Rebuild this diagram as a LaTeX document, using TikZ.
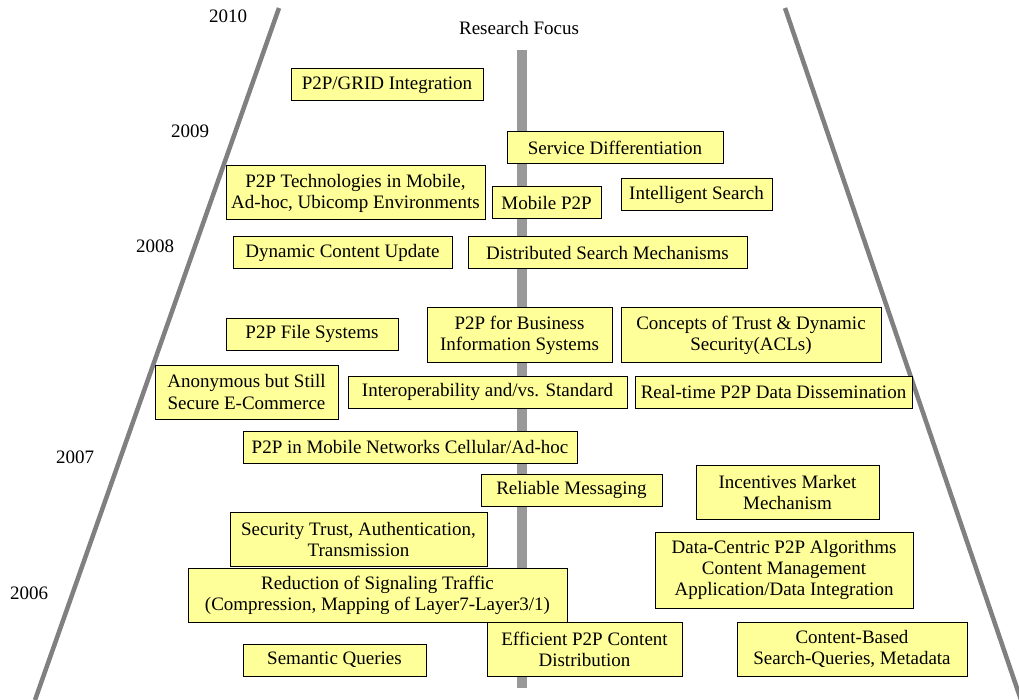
\documentclass[tikz,border=0pt]{standalone}
\usepackage{fontspec}
\setmainfont{Liberation Serif}
\definecolor{boxfill}{HTML}{FFFF99}
\definecolor{sideline}{HTML}{808080}
\definecolor{barcol}{HTML}{999999}
\tikzset{
  box/.style={draw=black,line width=1pt,fill=boxfill,inner sep=0pt,align=center,
    font=\fontsize{19}{21}\selectfont},
  year/.style={font=\fontsize{19}{21}\selectfont,inner sep=0pt},
}
\newcommand\bx[6]{\node[box,minimum width={(#4-#2)*1pt},minimum height={(#5-#3)*1pt}] (#1) at ({(#2+#4)/2},{(#3+#5)/2}) {#6};}
\begin{document}
\begin{tikzpicture}[x=1pt,y=-1pt]
\useasboundingbox (0,0) rectangle (1019,700);
\begin{scope}
\clip (0,0) rectangle (1019,700);
\draw[sideline,line width=4.5pt] (279,8) -- (35,700);
\draw[sideline,line width=4.5pt] (785,8) -- (1021,700);
\end{scope}
\fill[barcol] (517,50) rectangle (527,688);
\node[year] (rf) at (519,28) {Research Focus};
\node[year] (y2010) at (228,16) {2010};
\node[year] (y2009) at (190,131) {2009};
\node[year] (y2008) at (155,246) {2008};
\node[year] (y2007) at (75,457) {2007};
\node[year] (y2006) at (29,593) {2006};
\bx{b1}{291}{69}{483}{101}{P2P/GRID Integration}
\bx{b2}{507}{132}{723}{164}{Service Differentiation}
\bx{b3}{226}{166}{485}{220}{P2P Technologies in Mobile,\\Ad-hoc, Ubicomp Environments}
\bx{b4}{492}{187}{601}{219}{Mobile P2P}
\bx{b5}{621}{179}{772}{211}{Intelligent Search}
\bx{b6}{233}{237}{452}{269}{Dynamic Content Update}
\bx{b7}{468}{237}{747}{269}{Distributed Search Mechanisms}
\bx{b8}{226}{318}{398}{350}{P2P File Systems}
\bx{b9}{427}{308}{612}{362}{P2P for Business\\Information Systems}
\bx{b10}{621}{308}{881}{362}{Concepts of Trust \& Dynamic\\Security(ACLs)}
\bx{b11}{155}{365}{338}{419}{Anonymous but Still\\Secure E-Commerce}
\bx{b12}{348}{376}{627}{408}{Interoperability and/vs. Standard}
\bx{b13}{635}{376}{912}{408}{Real-time P2P Data Dissemination}
\bx{b14}{243}{431}{577}{463}{P2P in Mobile Networks Cellular/Ad-hoc}
\bx{b15}{481}{474}{662}{506}{Reliable Messaging}
\bx{b16}{696}{465}{879}{519}{Incentives Market\\Mechanism}
\bx{b17}{230}{512}{487}{566}{Security Trust, Authentication,\\Transmission}
\bx{b18}{655}{532}{913}{608}{Data-Centric P2P Algorithms\\Content Management\\Application/Data Integration}
\bx{b19}{188}{568}{567}{622}{Reduction of Signaling Traffic\\(Compression, Mapping of Layer7-Layer3/1)}
\bx{b20}{487}{622}{682}{676}{Efficient P2P Content\\Distribution}
\bx{b21}{737}{622}{967}{676}{Content-Based\\Search-Queries, Metadata}
\bx{b22}{243}{644}{426}{676}{Semantic Queries}
\end{tikzpicture}
\end{document}
